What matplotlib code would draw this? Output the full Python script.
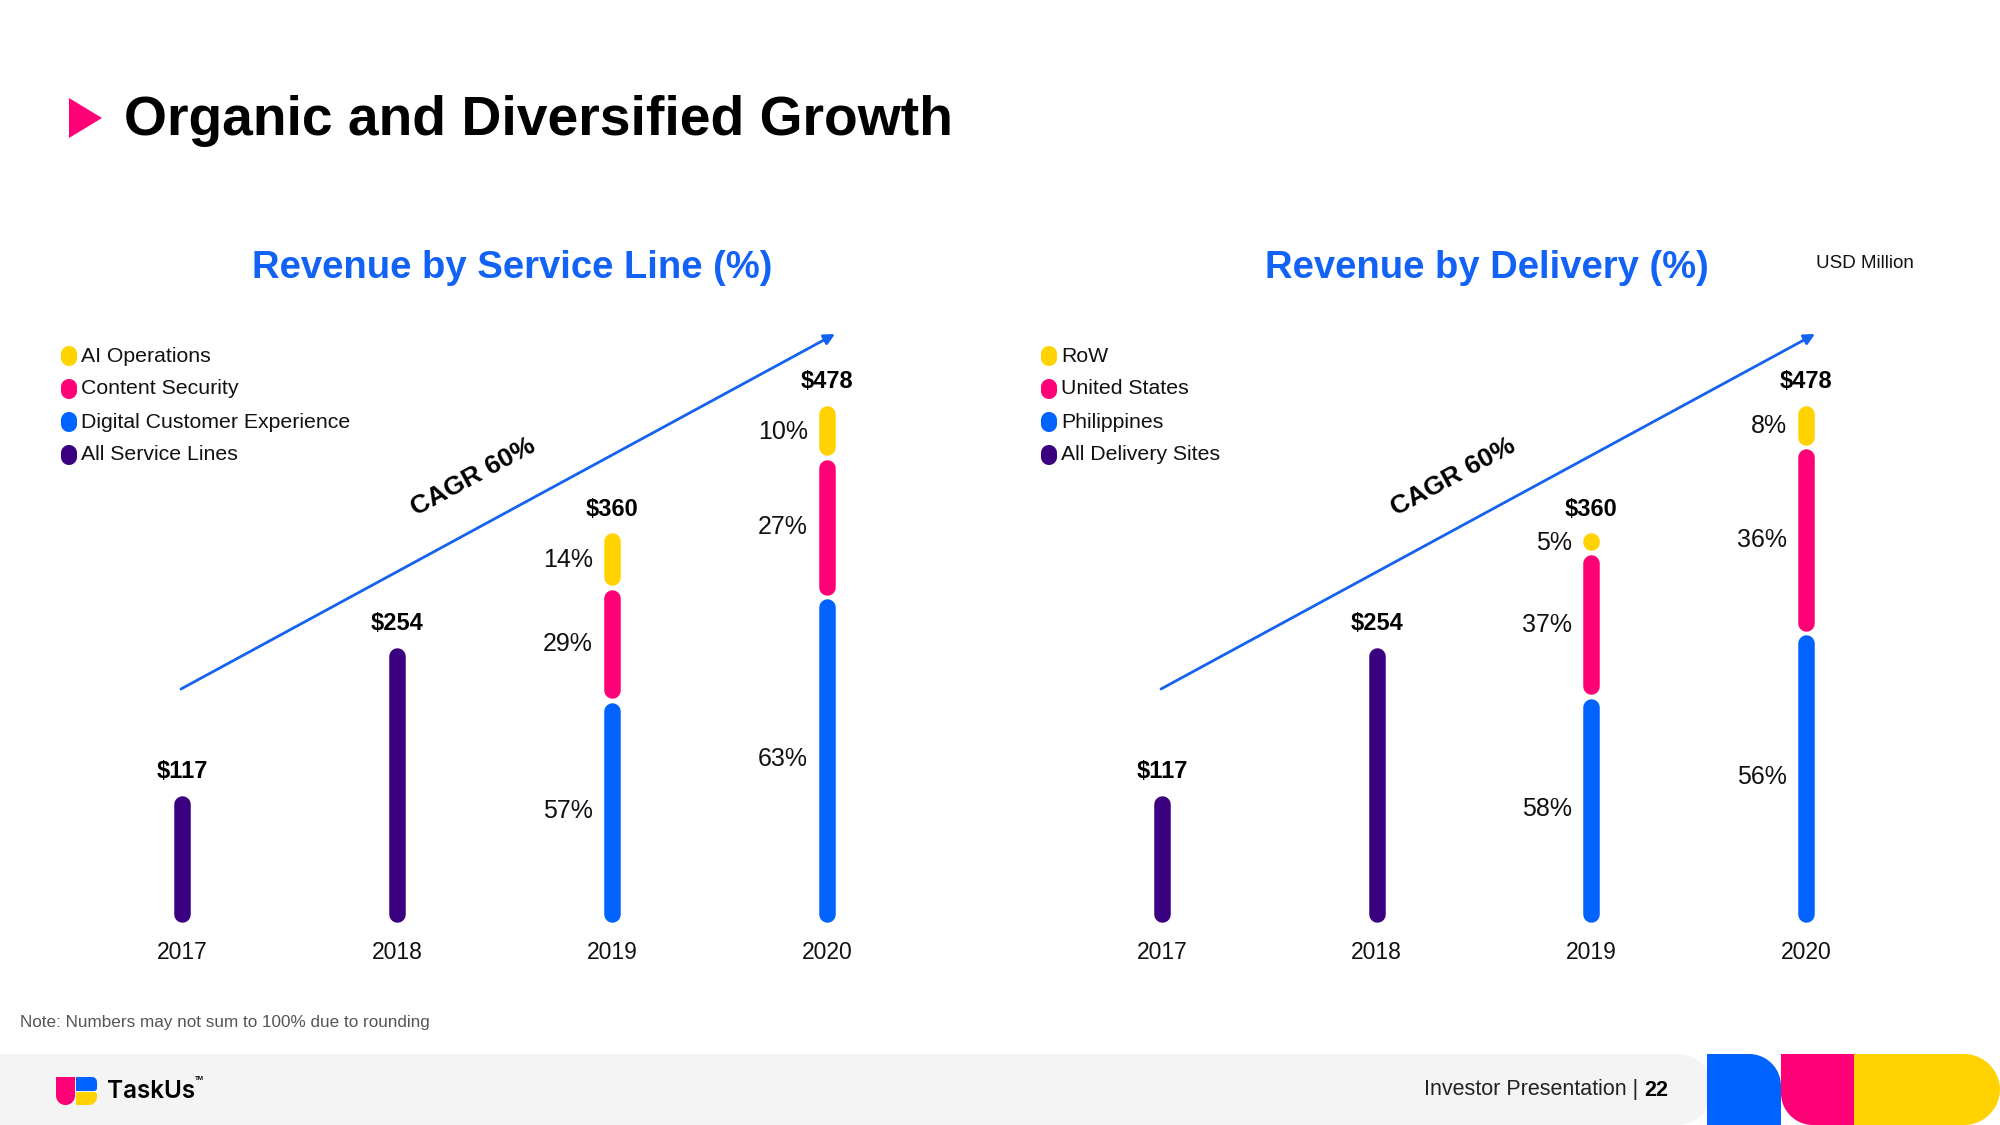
import numpy as np
import matplotlib
matplotlib.use("Agg")
import matplotlib.pyplot as plt
from matplotlib.patches import Polygon

plt.rcParams['font.family'] = ['Liberation Sans', 'DejaVu Sans']

# ---------------- data ----------------
years = ['2017', '2018', '2019', '2020']
totals = [117, 254, 360, 478]          # USD million

service_names = ['AI Operations', 'Content Security', 'Digital Customer Experience', 'All Service Lines']
svc_dcx = [None, None, 57, 63]
svc_cs = [None, None, 29, 27]
svc_ai = [None, None, 14, 10]

delivery_names = ['RoW', 'United States', 'Philippines', 'All Delivery Sites']
del_ph = [None, None, 58, 56]
del_us = [None, None, 37, 36]
del_row = [None, None, 5, 8]

cagr_label = 'CAGR 60%'

# ---------------- styles ----------------
YELLOW = '#FFD200'
PINK = '#FF0076'
BLUE = '#0062FF'
PURPLE = '#3B0080'
TITLE_BLUE = '#1262F5'
W, H = 2000, 1125

fig = plt.figure(figsize=(20, 11.25), dpi=100)
fig.patch.set_facecolor('white')

ov = fig.add_axes([0, 0, 1, 1], zorder=0)
ov.set_xlim(0, W)
ov.set_ylim(H, 0)
ov.axis('off')


def rrect(x0, y0, x1, y1, tl=0, tr=0, br=0, bl=0, n=24, **kw):
    pts = []
    def arc(cx, cy, r, a0, a1):
        for t in np.linspace(np.radians(a0), np.radians(a1), n):
            pts.append((cx + r * np.cos(t), cy + r * np.sin(t)))
    arc(x0 + tl, y0 + tl, tl, 180, 270) if tl else pts.append((x0, y0))
    arc(x1 - tr, y0 + tr, tr, 270, 360) if tr else pts.append((x1, y0))
    arc(x1 - br, y1 - br, br, 0, 90) if br else pts.append((x1, y1))
    arc(x0 + bl, y1 - bl, bl, 90, 180) if bl else pts.append((x0, y1))
    p = Polygon(pts, closed=True, **kw)
    ov.add_patch(p)
    return p


# ---------------- header ----------------
ov.add_patch(Polygon([(69, 98), (102, 118), (69, 138)], closed=True, color=PINK, lw=0))
ov.text(124, 121, 'Organic and Diversified Growth', fontsize=39.8, fontweight='bold',
        va='center', ha='left', color='black')

ov.text(512, 268, 'Revenue by Service Line (%)', fontsize=27.5, fontweight='bold',
        color=TITLE_BLUE, ha='center', va='center')
ov.text(1487, 268, 'Revenue by Delivery (%)', fontsize=27.5, fontweight='bold',
        color=TITLE_BLUE, ha='center', va='center')
ov.text(1865, 264, 'USD Million', fontsize=13.5, ha='center', va='center', color='#111111')

# ---------------- legends ----------------
leg_colors = [YELLOW, PINK, BLUE, PURPLE]
leg_rows = [356, 389, 422, 455]
for names, mx, tx in [(service_names, 69, 81), (delivery_names, 1049, 1061)]:
    for name, col, yy in zip(names, leg_colors, leg_rows):
        rrect(mx - 8, yy - 10, mx + 8, yy + 10, 8, 8, 8, 8, color=col, lw=0)
        ov.text(tx, yy, name, fontsize=15.3, va='center', ha='left', color='#111111')

# ---------------- CAGR arrows ----------------
for (x0, y0, x1, y1, tx, ty) in [(181, 689, 835, 334, 473, 477), (1161, 689, 1815, 334, 1453, 477)]:
    ov.annotate('', xy=(x1, y1), xytext=(x0, y0),
                arrowprops=dict(arrowstyle='-|>', color='#1462F0', lw=2.0,
                                mutation_scale=16, shrinkA=0, shrinkB=0))
    ang = np.degrees(np.arctan2(y0 - y1, x1 - x0))
    ov.text(tx, ty, cagr_label, fontsize=19, fontweight='bold', rotation=ang,
            rotation_mode='anchor', ha='center', va='center', color='black')

# ---------------- footer ----------------
ov.text(20, 1022, 'Note: Numbers may not sum to 100% due to rounding', fontsize=12.3,
        color='#555555', va='center', ha='left')
rrect(0, 1054, 1712, 1125, tr=34, br=34, color='#F4F4F4', lw=0)
rrect(1707, 1054, 1781, 1125, tr=32, color=BLUE, lw=0)
rrect(1781, 1054, 1854, 1125, bl=32, color=PINK, lw=0)
rrect(1854, 1054, 2000, 1125, tr=36, br=36, color=YELLOW, lw=0)
ov.text(1638, 1090, 'Investor Presentation |', fontsize=15.5, ha='right', va='center', color='#222222')
ov.text(1644, 1090, '22', fontsize=15.5, fontweight='bold', ha='left', va='center', color='black')

# logo
rrect(56, 1077, 75, 1105, bl=9.5, br=9.5, color=PINK, lw=0)
rrect(76, 1077, 97, 1091, tr=5, br=3, color=BLUE, lw=0)
rrect(76, 1092, 97, 1105, tr=3, br=8, color=YELLOW, lw=0)
ov.text(107, 1092, 'TaskUs', fontsize=17.5, fontweight='semibold', family=['Inter', 'DejaVu Sans'],
        ha='left', va='center', color='black')
ov.text(195, 1079, 'TM', fontsize=4.5, ha='left', va='center', color='black', fontweight='bold')

# ---------------- charts ----------------
PX_PER_UNIT = 1.08
BOTTOM_PX = 922
YMAX = 600
BAR_PX = 16.5
GAP_PX = 4


def make_axes(x_first, x_last):
    step = (x_last - x_first) / 3.0
    left = x_first - step / 2
    width = step * 4
    hpx = YMAX * PX_PER_UNIT
    ax = fig.add_axes([left / W, (H - BOTTOM_PX) / H, width / W, hpx / H], zorder=2)
    ax.set_xlim(-0.5, 3.5)
    ax.set_ylim(0, YMAX)
    ax.patch.set_alpha(0)
    for s in ax.spines.values():
        s.set_visible(False)
    ax.set_yticks([])
    ax.set_xticks(range(len(years)), years)
    ax.tick_params(axis='x', length=0, pad=14, labelsize=16.5, labelcolor='#111111')
    return ax


def draw_chart(ax, blue, pink, yellow):
    r = (BAR_PX / 2) / PX_PER_UNIT
    g = GAP_PX / PX_PER_UNIT
    lw = BAR_PX * 72 / 100
    for i, tot in enumerate(totals):
        if blue[i] is None:
            segs = [(100, PURPLE, None)]
        else:
            segs = [(blue[i], BLUE, blue[i]), (pink[i], PINK, pink[i]), (yellow[i], YELLOW, yellow[i])]
        ssum = sum(s[0] for s in segs)
        y0 = 0.0
        for k, (v, col, lab) in enumerate(segs):
            y1 = y0 + tot * v / ssum
            a = y0 + (g / 2 if k > 0 else 0) + r
            b = y1 - (g / 2 if k < len(segs) - 1 else 0) - r
            if b < a:
                a = b = (a + b) / 2
            ax.plot([i, i], [a, b], color=col, lw=lw, solid_capstyle='round', clip_on=False)
            if lab is not None:
                ax.annotate(f'{lab}%', (i, (y0 + y1) / 2), xytext=(-19 * 0.72, 0),
                            textcoords='offset points', ha='right', va='center',
                            fontsize=18, color='#111111', annotation_clip=False)
            y0 = y1
        ax.annotate(f'${tot}', (i, tot), xytext=(0, 24 * 0.72), textcoords='offset points',
                    ha='center', va='center', fontsize=17, fontweight='bold', color='black',
                    annotation_clip=False)


axL = make_axes(182, 827)
draw_chart(axL, svc_dcx, svc_cs, svc_ai)
axR = make_axes(1162, 1806)
draw_chart(axR, del_ph, del_us, del_row)

fig.savefig('out.png', dpi=100, facecolor='white')
